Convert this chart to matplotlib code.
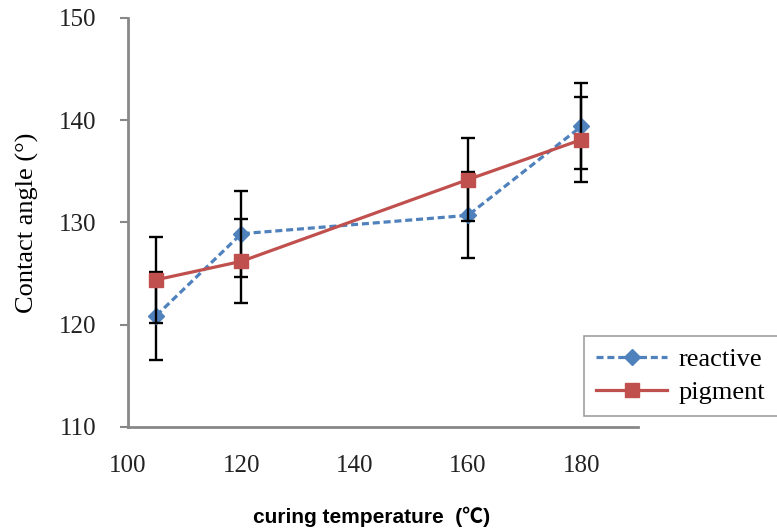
import numpy as np
import matplotlib.pyplot as plt

# datos
temperatura = [105, 120, 160, 180]
reactive = [120.9, 128.9, 130.7, 139.4]
reactive_err = [4.3, 4.2, 4.2, 4.2]
pigment = [124.4, 126.2, 134.2, 138.1]
pigment_err = [4.2, 4.1, 4.1, 4.15]
xticks = [100, 120, 140, 160, 180]
yticks = [110, 120, 130, 140, 150]

azul = '#4F81BD'
rojo = '#C0504D'
gris = '#888888'
serif = ['Liberation Serif', 'DejaVu Serif']

fig = plt.figure(figsize=(7.77, 5.31), dpi=100)
ax = fig.add_axes([128 / 777, 1 - 427 / 531, 510 / 777, 409 / 531])

ax.errorbar(temperatura, reactive, yerr=reactive_err, color=azul, linestyle='--',
            linewidth=2.3, dashes=(2.2, 1.2), marker='D', markersize=8.5,
            ecolor='black', elinewidth=1.7, capsize=5, capthick=1.7,
            label='reactive', zorder=3)
ax.errorbar(temperatura, pigment, yerr=pigment_err, color=rojo, linestyle='-',
            linewidth=2.3, marker='s', markersize=9.5,
            ecolor='black', elinewidth=1.7, capsize=5, capthick=1.7,
            label='pigment', zorder=4)

ax.set_xlim(100, 190)
ax.set_ylim(110, 150)
ax.set_xticks(xticks)
ax.set_yticks(yticks)
ax.set_xticklabels([str(t) for t in xticks], family=serif, fontsize=18, color='#222222')
ax.set_yticklabels([str(t) for t in yticks], family=serif, fontsize=18, color='#222222')
ax.tick_params(axis='x', length=0, pad=20)
ax.tick_params(axis='y', length=6, width=1.5, color=gris, pad=17)

for lado in ['top', 'right']:
    ax.spines[lado].set_visible(False)
for lado in ['left', 'bottom']:
    ax.spines[lado].set_color(gris)
    ax.spines[lado].set_linewidth(2)

ax.set_ylabel('Contact angle (°)', family=serif, fontsize=19, labelpad=14)
fig.text(372 / 777, 1 - 517 / 531, 'curing temperature  (℃)',
         family=['Liberation Sans', 'Noto Sans CJK KR'], fontweight='bold',
         fontsize=15, ha='center', va='center')

# leyenda sin barras de error
h, l = ax.get_legend_handles_labels()
leg = fig.legend([x[0] for x in h], l, loc='upper left',
                 bbox_to_anchor=(584 / 777, 1 - 336 / 531),
                 prop={'family': serif, 'size': 19}, frameon=True,
                 fancybox=False, edgecolor=gris, handlelength=2.7,
                 borderaxespad=0, borderpad=0.45, labelspacing=0.35,
                 handletextpad=0.45)
leg.get_frame().set_linewidth(1.2)

fig.savefig('out.png', dpi=100)
